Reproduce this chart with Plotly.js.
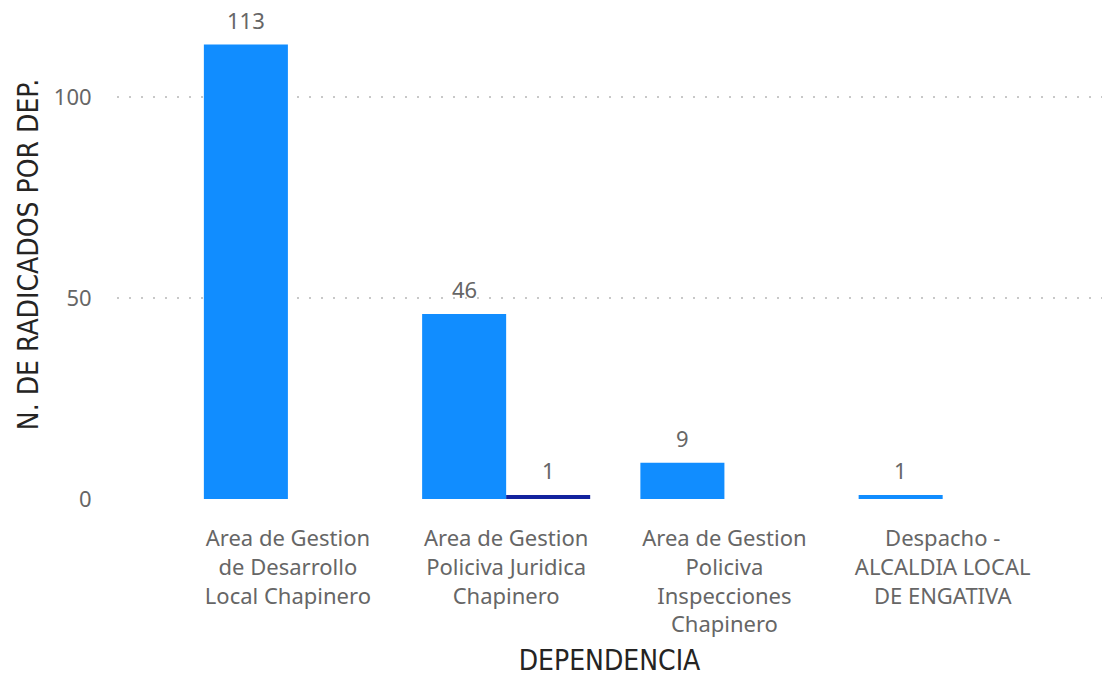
<!DOCTYPE html>
<html>
<head>
<meta charset="utf-8">
<script src="https://cdn.plot.ly/plotly-3.0.1.min.js"></script>
<style>html,body{margin:0;padding:0;background:#fff;}#chart{width:1112px;height:677px;}</style>
</head>
<body>
<div id="chart"></div>
<script>
const categories = [
  "Area de Gestion<br>de Desarrollo<br>Local Chapinero",
  "Area de Gestion<br>Policiva Juridica<br>Chapinero",
  "Area de Gestion<br>Policiva<br>Inspecciones<br>Chapinero",
  "Despacho -<br>ALCALDIA LOCAL<br>DE ENGATIVA"
];
const seriesA = [113, 46, 9, 1];
const seriesB = [null, 1, null, null];
const yTicks = [0, 50, 100];

const labelFont = {family: "Noto Sans, Open Sans, sans-serif", size: 22, color: "#666666"};
const titleFont = {family: "DejaVu Sans Condensed, sans-serif", size: 28, color: "#252423"};
const BARGAP = 0.23;
const half = (1 - BARGAP) / 4;

const traces = [
  {type: "bar", x: categories, y: seriesA, marker: {color: "#118DFF"}, name: "A", hoverinfo: "none"},
  {type: "bar", x: categories, y: seriesB, marker: {color: "#12239E"}, name: "B", hoverinfo: "none"}
];

const annotations = [];
[[seriesA, -half], [seriesB, half]].forEach(([s, off]) => {
  s.forEach((v, i) => {
    if (v == null) return;
    annotations.push({x: i + off, y: v, xref: "x", yref: "y", text: String(v),
      showarrow: false, yanchor: "bottom", yshift: 8, font: labelFont});
  });
});

const layout = {
  width: 1112, height: 677,
  margin: {l: 117, r: 10, t: 10, b: 178},
  paper_bgcolor: "#ffffff", plot_bgcolor: "#ffffff",
  showlegend: false,
  barmode: "group", bargap: BARGAP, bargroupgap: 0,
  annotations: annotations,
  xaxis: {
    type: "category", range: [-0.783, 3.73],
    showgrid: false, zeroline: false, showline: false,
    tickfont: labelFont, ticks: "outside", ticklen: 20, tickcolor: "rgba(0,0,0,0)",
    title: {text: "DEPENDENCIA", font: titleFont, standoff: 15}
  },
  yaxis: {
    range: [0, 121.6], tickvals: yTicks, ticktext: yTicks.map(String),
    showgrid: true, gridcolor: "#c8c8c8", gridwidth: 2, griddash: "2px,10px",
    zeroline: false, showline: false,
    tickfont: labelFont, ticks: "outside", ticklen: 20, tickcolor: "rgba(0,0,0,0)",
    title: {text: "N. DE RADICADOS POR DEP.", font: titleFont, standoff: 7}
  }
};

Plotly.newPlot("chart", traces, layout, {displayModeBar: false, staticPlot: true});
</script>
</body>
</html>
